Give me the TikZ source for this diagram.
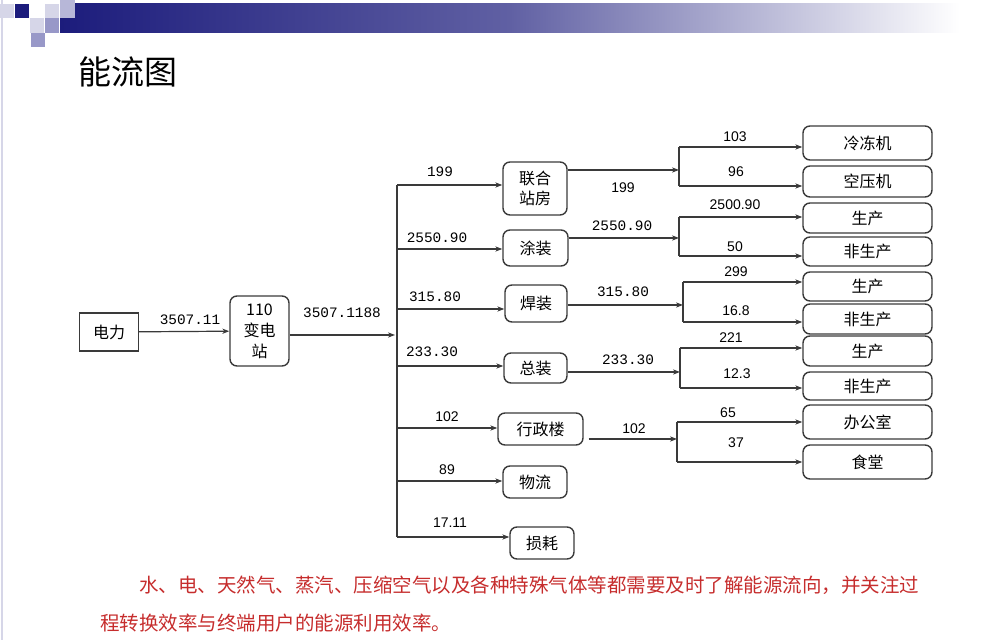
\documentclass[tikz,border=0pt]{standalone}
\usepackage{fontspec}
\setmainfont{Liberation Sans}
\setmonofont{Liberation Mono}
\newfontfamily\cjk{Noto Sans CJK SC}
\usetikzlibrary{arrows.meta}
\definecolor{cnavy}{HTML}{1C1C7C}
\definecolor{cline}{HTML}{3A3A3A}
\definecolor{cred}{HTML}{C62D2D}
\definecolor{clav}{HTML}{D6D6E8}
\definecolor{cpurp}{HTML}{9898C8}

\begin{document}
\begin{tikzpicture}[x=0.5pt,y=-0.5pt,
  box/.style={draw=cline,line width=0.7pt,font=\cjk\fontsize{8}{10}\selectfont,
    inner sep=1pt,align=center},
  rbox/.style={box,rounded corners=3.5pt},
  leaf/.style={rbox,minimum width=64.5pt},
  flow/.style={draw=cline,line width=0.6pt,-{Stealth[length=3.5pt,width=2.6pt]}},
  wire/.style={draw=cline,line width=0.6pt},
  num/.style={font=\ttfamily\fontsize{7.2}{8}\selectfont,inner sep=0pt},
  val/.style={font=\fontsize{7}{8}\selectfont,inner sep=0pt}]
  \useasboundingbox (0,0) rectangle (1001,640);
  % slide header
  \draw[clav,line width=1pt] (2,0) -- (2,640);
  \shade[left color=cnavy,right color=white,middle color=cnavy!70!white] (60,4) rectangle (960,33);
  \fill[clav] (0,4) rectangle (14,18);
  \fill[cnavy] (15,4) rectangle (29,18);
  \fill[clav] (45,4) rectangle (59,18);
  \fill[cpurp!70] (60,0) rectangle (75,18);
  \fill[clav] (30,18) rectangle (44,33);
  \fill[cpurp] (45,18) rectangle (59,33);
  \fill[cpurp] (31,33) rectangle (45,47);
  \node[font=\cjk\fontsize{16.5}{18}\selectfont,anchor=west,inner sep=0pt] (title) at (78,72) {能流图};

  % supply side
  \node[box,minimum width=29.5pt,minimum height=19pt] (dl) at (109,332) {电力};
  \node[rbox,minimum width=29.5pt,minimum height=35pt,inner sep=0pt,
    font=\cjk\fontsize{8}{10.5}\selectfont] (bdz) at (259.5,331) {110\\变电\\站};
  \draw[flow] (dl) -- (bdz);
  \node[num] (n0) at (190,320) {3507.11};
  \coordinate (bin) at (395,335);
  \draw[flow] (bdz.east |- bin) -- (bin);
  \node[num] (n00) at (342,313) {3507.1188};

  % first level
  \node[rbox,minimum width=32pt,minimum height=26.5pt] (lh) at (535,188.5) {联合\\站房};
  \node[rbox,minimum width=32.5pt,minimum height=18pt] (tz) at (535.5,248) {涂装};
  \node[rbox,minimum width=31pt,minimum height=18.5pt] (hz) at (536,303.5) {焊装};
  \node[rbox,minimum width=31.5pt,minimum height=15pt] (zz) at (535.5,368) {总装};
  \node[rbox,minimum width=42.5pt,minimum height=16pt] (xz) at (540.5,429) {行政楼};
  \node[rbox,minimum width=32pt,minimum height=16pt] (wl) at (535,482) {物流};
  \node[rbox,minimum width=32pt,minimum height=16pt] (sh) at (542,543) {损耗};

  \coordinate (b1) at (397,185);
  \coordinate (b2) at (397,249);
  \coordinate (b3) at (397,309);
  \coordinate (b4) at (397,366);
  \coordinate (b5) at (397,428);
  \coordinate (b6) at (397,481);
  \coordinate (b7) at (397,537);
  \draw[wire] (b1) -- (b7);
  \draw[flow] (b1) -- (b1 -| lh.west);
  \draw[flow] (b2) -- (b2 -| tz.west);
  \draw[flow] (b3) -- (b3 -| hz.west);
  \draw[flow] (b4) -- (b4 -| zz.west);
  \draw[flow] (b5) -- (b5 -| xz.west);
  \draw[flow] (b6) -- (b6 -| wl.west);
  \draw[flow] (b7) -- (b7 -| sh.west);
  \node[num] (n1) at (440,172) {199};
  \node[num] (n2) at (437,238) {2550.90};
  \node[num] (n3) at (435,297) {315.80};
  \node[num] (n4) at (432,352) {233.30};
  \node[val] (n5) at (447,417) {102};
  \node[val] (n6) at (447,470) {89};
  \node[val] (n7) at (450,523) {17.11};

  % end users
  \node[leaf,minimum height=17pt] (ldj) at (867.5,143) {冷冻机};
  \node[leaf,minimum height=15.5pt] (kyj) at (867.5,181.5) {空压机};
  \node[leaf,minimum height=15pt] (sc1) at (867.5,218) {生产};
  \node[leaf,minimum height=14.5pt] (fs1) at (867.5,251.5) {非生产};
  \node[leaf,minimum height=14.5pt] (sc2) at (867.5,286.5) {生产};
  \node[leaf,minimum height=15pt] (fs2) at (867.5,319) {非生产};
  \node[leaf,minimum height=15pt] (sc3) at (867.5,351) {生产};
  \node[leaf,minimum height=14pt] (fs3) at (867.5,386) {非生产};
  \node[leaf,minimum height=17pt] (bgs) at (867.5,422) {办公室};
  \node[leaf,minimum height=17pt] (st) at (867.5,462) {食堂};

  % 联合站房
  \coordinate (s1) at (679,170);
  \coordinate (s1a) at (679,147);
  \coordinate (s1b) at (679,186);
  \draw[flow] (lh.east |- s1) -- (s1);
  \draw[wire] (s1a) -- (s1b);
  \draw[flow] (s1a) -- (s1a -| ldj.west);
  \draw[flow] (s1b) -- (s1b -| kyj.west);
  \node[val] (m1) at (623,188) {199};
  \node[val] (v1) at (735,137) {103};
  \node[val] (v2) at (736,172) {96};
  % 涂装
  \coordinate (s2) at (679,238);
  \coordinate (s2a) at (679,217);
  \coordinate (s2b) at (679,256);
  \draw[flow] (tz.east |- s2) -- (s2);
  \draw[wire] (s2a) -- (s2b);
  \draw[flow] (s2a) -- (s2a -| sc1.west);
  \draw[flow] (s2b) -- (s2b -| fs1.west);
  \node[num] (m2) at (622,226) {2550.90};
  \node[val] (v3) at (735,205) {2500.90};
  \node[val] (v4) at (735,247) {50};
  % 焊装
  \coordinate (s3) at (683,305);
  \coordinate (s3a) at (683,282);
  \coordinate (s3b) at (683,322);
  \draw[flow] (hz.east |- s3) -- (s3);
  \draw[wire] (s3a) -- (s3b);
  \draw[flow] (s3a) -- (s3a -| sc2.west);
  \draw[flow] (s3b) -- (s3b -| fs2.west);
  \node[num] (m3) at (623,292) {315.80};
  \node[val] (v5) at (736,272) {299};
  \node[val] (v6) at (736,311) {16.8};
  % 总装
  \coordinate (s4) at (680,372);
  \coordinate (s4a) at (680,348);
  \coordinate (s4b) at (680,388);
  \draw[flow] (zz.east |- s4) -- (s4);
  \draw[wire] (s4a) -- (s4b);
  \draw[flow] (s4a) -- (s4a -| sc3.west);
  \draw[flow] (s4b) -- (s4b -| fs3.west);
  \node[num] (m4) at (628,360) {233.30};
  \node[val] (v7) at (731,338) {221};
  \node[val] (v8) at (737,374) {12.3};
  % 行政楼
  \coordinate (s5) at (677,439);
  \coordinate (s5a) at (677,422);
  \coordinate (s5b) at (677,462);
  \draw[flow,shorten <=2.5pt] (xz.east |- s5) -- (s5);
  \draw[wire] (s5a) -- (s5b);
  \draw[flow] (s5a) -- (s5a -| bgs.west);
  \draw[flow] (s5b) -- (s5b -| st.west);
  \node[val] (m5) at (634,429) {102};
  \node[val] (v9) at (728,413) {65};
  \node[val] (v10) at (736,443) {37};

  % note
  \node[font=\cjk\fontsize{9.75}{19}\selectfont,text=cred,anchor=north west,
    align=left,inner sep=0pt] (note) at (100,576)
    {\hspace{2em}水、电、天然气、蒸汽、压缩空气以及各种特殊气体等都需要及时了解能源流向，并关注过\\
     程转换效率与终端用户的能源利用效率。};
\end{tikzpicture}
\end{document}
